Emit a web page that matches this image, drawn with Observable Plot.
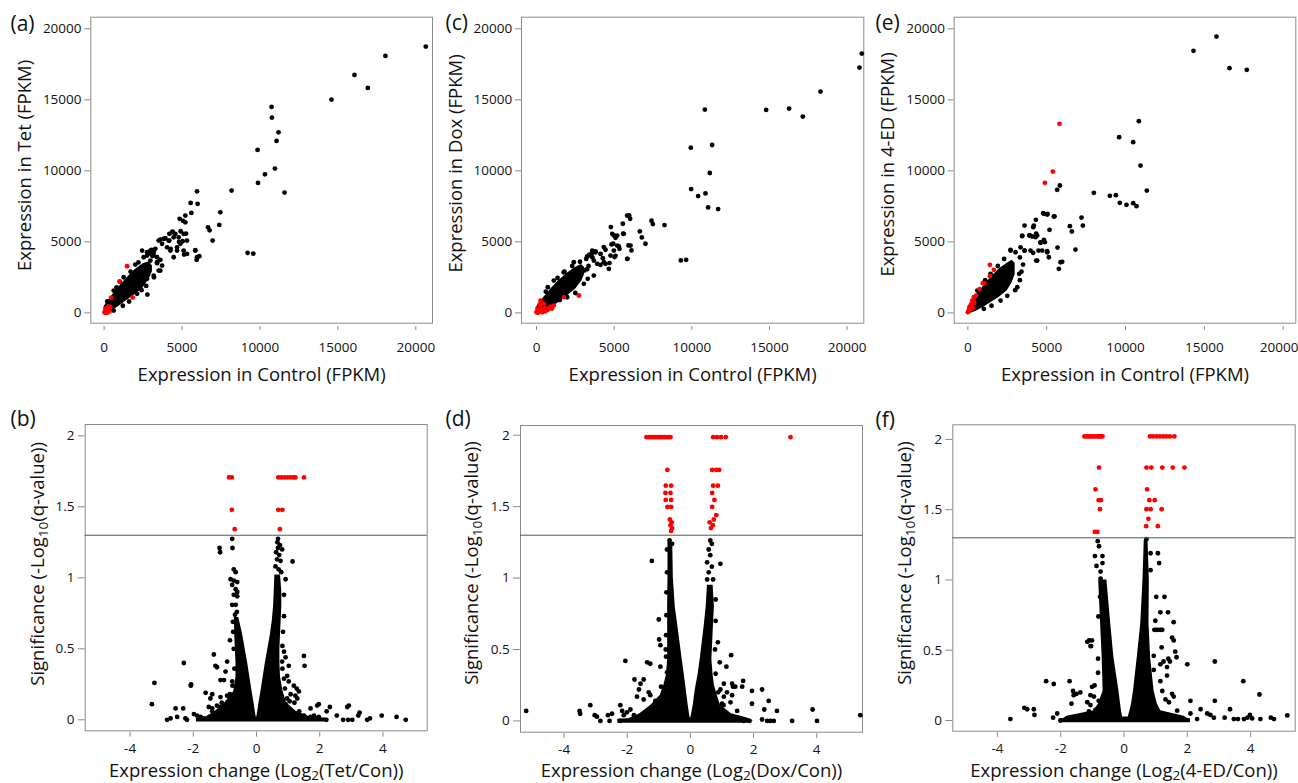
<!DOCTYPE html>
<html><head><meta charset="utf-8">
<script src="https://cdn.jsdelivr.net/npm/d3@7"></script>
<script src="https://cdn.jsdelivr.net/npm/@observablehq/plot@0.6"></script>
<style>
body{margin:0;background:#fff;}
#fig{position:relative;width:1298px;height:783px;}
#fig svg{position:absolute;}
</style></head><body><div id="fig"></div>
<script>
// ---------- tick labels & texts ----------
const scatterTicks = [0, 5000, 10000, 15000, 20000];
const volcanoXTicks = [-4, -2, 0, 2, 4];
const volcanoYTicks = [0, 0.5, 1, 1.5, 2];
const panelLetters = ["(a)", "(b)", "(c)", "(d)", "(e)", "(f)"];
const scatterXLabel = "Expression in Control (FPKM)";
const scatterYLabels = ["Expression in Tet (FPKM)", "Expression in Dox (FPKM)", "Expression in 4-ED (FPKM)"];
const volcanoXLabels = ["Expression change (Log2(Tet/Con))", "Expression change (Log2(Dox/Con))", "Expression change (Log2(4-ED/Con))"];
const volcanoYLabel = "Significance (-Log10(q-value))";
const qThreshold = 1.3;

// ---------- (a) Tet vs Control ----------
const aBlack = [[20640,18748],[18051,18093],[16064,16755],[16922,15840],[14590,15016],[10744,14502],[10769,13749],[11192,12714],[11064,12109],[9846,11475],[10961,10159],[10320,9757],[9872,9152],[11577,8469],[8179,8610],[5961,8561],[5551,7744],[6000,7674],[5596,7040],[7455,7082],[7391,6195],[6666,6026],[6769,5815],[6961,5090],[4846,6618],[5064,6477],[5211,6378],[4910,5745],[5256,5583],[4397,5724],[4461,5322],[4186,5562],[3609,5160],[3930,5252],[4186,5090],[4808,4998],[5038,5041],[5320,5090],[5852,4407],[6109,3985],[5936,3731],[4269,4506],[4461,3914],[4679,4386],[5128,4104],[9205,4224],[9570,4175],[3051,4435],[3179,4266],[3013,4154],[2776,1288],[3500,5090],[3820,5210],[4141,5090],[4359,5674],[4570,5562],[4782,5322],[5102,5562],[5211,6850],[4891,4858],[4679,4618],[5102,4386],[5320,4154],[5852,4386],[5961,3914],[4250,4386],[4038,4618],[3718,4858],[3288,4506],[2968,4386],[2756,4034],[2968,3682],[2647,3330],[2859,2978],[3180,2626],[2756,2394],[3180,4034],[3397,3914],[3609,3731],[3397,3562],[3718,3330],[3500,2978],[2436,4386],[2756,4266],[3077,4386],[615,162],[1200,500],[2115,1338],[2700,1900],[3200,2500],[3609,2978],[3400,3500],[3100,4000],[2540,3914],[2000,3400],[1256,2506],[800,1800],[615,1570],[200,800],[1600,800],[2400,1600],[1700,2900],[2200,3550],[1000,2200]];
const aRed = [[1474,3281],[1000,2203],[449,1077],[1833,1077],[50,100],[150,50],[250,150],[100,300],[200,350],[300,250],[350,100],[30,20],[400,400],[120,180],[280,450],[180,0]];
const aBand = [[0,-100,450],[300,0,900],[600,200,1350],[1000,500,1900],[1500,900,2500],[2000,1300,3050],[2500,1750,3450],[2900,2400,3600],[3100,2900,3300]];

// ---------- (c) Dox vs Control ----------
const cBlack = [[20945,18260],[20795,17273],[18284,15581],[14786,14288],[16267,14382],[17147,13818],[10837,14312],[9936,11633],[11309,11821],[11159,9847],[9957,8719],[10408,8225],[10880,8413],[11052,7426],[11696,7309],[9292,3690],[9636,3737],[8241,6181],[7404,6486],[7490,6251],[6653,5734],[6781,5311],[7017,4865],[5966,6862],[6030,6627],[5558,6275],[5579,5570],[4786,6040],[4979,5452],[5086,5288],[4936,4865],[5301,4677],[5343,4512],[4829,4818],[4335,4630],[4442,4442],[4271,3854],[4120,3384],[4700,3502],[5086,4019],[5021,3925],[5858,3807],[5923,4747],[6116,4395],[3605,4230],[3798,4324],[3262,3972],[3090,2985],[3262,3079],[730,1810],[1352,2468],[4873,5562],[5195,5442],[5623,5562],[5839,6850],[6054,4738],[5839,3802],[5195,4738],[4980,4386],[4766,4034],[4444,3450],[4659,3098],[4337,3562],[4122,4154],[3800,4266],[3587,4386],[3478,4034],[3693,3682],[3909,3450],[3200,3800],[3400,4100],[3600,3900],[2800,3600],[2300,3300],[1800,2900],[1114,2274],[1757,2858],[2402,3562],[902,634],[1977,1098],[3046,2042],[3690,2626],[2500,1400],[3300,2400],[1500,900],[600,1500],[3350,3300]];
const cRed = [[0,50],[60,300],[150,120],[258,394],[367,42],[470,634],[580,352],[700,200],[792,282],[902,444],[1000,300],[1114,514],[300,150],[200,600],[450,250],[258,866],[1760,1105],[2725,1222],[100,0],[550,100]];
const cBand = [[0,-100,400],[400,50,1000],[900,350,1650],[1400,700,2250],[2000,1200,2800],[2500,1650,3200],[2900,2200,3400],[3100,2700,3200]];

// ---------- (e) 4-ED vs Control ----------
const eBlack = [[15771,19457],[14312,18448],[16595,17227],[17694,17110],[10845,13495],[9598,12369],[10486,12017],[10951,10374],[11352,8613],[7991,8449],[9006,8238],[9386,8285],[9640,7745],[10063,7604],[10486,7722],[10697,7510],[5835,8966],[5666,8660],[4778,7018],[5052,6971],[5454,6783],[6469,6102],[6596,5727],[7209,6712],[7293,6149],[6828,4459],[5687,4600],[5983,3591],[5771,3098],[5179,5844],[4820,5140],[4883,4976],[4609,4929],[4482,4389],[5031,4342],[4334,5586],[4292,5328],[3911,5469],[4080,5375],[3594,6149],[3446,5398],[4313,6548],[4143,6032],[4143,4225],[4334,3685],[3594,4389],[3256,2746],[2707,4435],[3024,4266],[3341,4618],[3595,4386],[3975,4386],[4186,6146],[3446,5442],[3912,5442],[4398,5442],[4818,6970],[5034,6920],[5497,6800],[4609,4970],[4715,4386],[5034,4266],[4398,3682],[5135,3914],[5877,3562],[1014,282],[2073,866],[3132,1802],[1500,500],[2500,1200],[3000,1600],[3300,2300],[3400,2900],[3500,3400],[3300,3900],[2707,4386],[2300,3800],[1900,3300],[1439,2746],[1100,2300],[596,1570]];
const eRed = [[5814,13307],[5391,9951],[4883,9153],[1395,3380],[1649,3028],[1395,2582],[951,2089],[1050,2100],[740,1666],[529,1220],[380,1098],[278,866],[200,600],[100,400],[50,150],[150,250],[250,450],[0,50],[300,300],[400,700]];
const eBand = [[0,-100,400],[500,100,1200],[1000,400,1900],[1500,750,2550],[2000,1100,3100],[2500,1550,3500],[2800,2100,3700],[3000,2700,3500]];

// ---------- (b) Tet volcano ----------
const bRed = [[-0.87,1.707],[-0.78,1.707],[0.69,1.707],[0.78,1.707],[0.88,1.707],[0.98,1.707],[1.08,1.707],[1.17,1.707],[1.23,1.707],[1.50,1.707],[-0.78,1.479],[0.69,1.479],[0.82,1.479],[-0.69,1.343],[0.74,1.343]];
const bBlack = [[-0.77,1.275],[-0.76,1.21],[-1.17,1.21],[-1.15,1.18],[-0.72,1.06],[-0.66,1.04],[-0.82,0.99],[-0.72,0.98],[-0.61,0.97],[-0.77,0.95],[-0.66,0.92],[-0.61,0.90],[-0.72,0.88],[-0.61,0.87],[-0.77,0.81],[-0.66,0.81],[-0.75,0.69],[-0.84,0.56],[-1.35,0.46],[-1.30,0.38],[-1.25,0.37],[-0.93,0.41],[-0.98,0.34],[-1.14,0.28],[-1.03,0.28],[-0.77,0.27],[-2.30,0.40],[-2.07,0.25],[-1.61,0.19],[-1.40,0.18],[-1.46,0.15],[-1.14,0.16],[-0.93,0.17],[-0.82,0.16],[-1.51,0.09],[-1.40,0.08],[-1.25,0.10],[-1.14,0.09],[-1.03,0.10],[-0.88,0.09],[-2.56,0.08],[-2.32,0.08],[-2.72,0.01],[-2.51,0.02],[-2.25,0.01],[-2.20,0],[-1.98,0.04],[-1.88,0.03],[-1.77,0.02],[-1.67,0.01],[-3.31,0.11],[-3.23,0.26],[-2.83,0],[-2.08,0.24],[-0.74,0.62],[-0.72,0.50],[-0.70,0.36],[-0.76,0.24],[-0.84,0.18],[-1.1,0.12],[-1.4,0.06],[-0.62,0.76],[-0.68,0.74],
[0.68,1.275],[0.68,1.21],[0.81,1.20],[1.14,1.115],[0.65,1.13],[0.76,1.12],[0.62,1.18],[0.72,1.16],[0.60,1.08],[0.70,1.06],[0.78,1.04],[0.66,1.25],[0.74,1.23],[0.92,0.99],[0.87,0.88],[0.87,0.73],[0.87,0.48],[0.92,0.44],[0.81,0.41],[1.50,0.45],[1.52,0.38],[1.02,0.38],[0.97,0.31],[1.02,0.27],[0.87,0.29],[1.18,0.24],[1.27,0.22],[1.34,0.20],[1.23,0.17],[1.29,0.15],[1.20,0.12],[1.08,0.18],[0.97,0.15],[0.92,0.11],[1.71,0.08],[1.92,0.10],[1.82,0.03],[1.97,0.02],[1.71,0.02],[1.50,0.03],[1.97,0.11],[1.90,0.01],[2.22,0.06],[2.32,0.09],[2.21,0],[2.54,0.03],[2.74,0],[2.87,0.09],[2.92,0.10],[2.90,0],[3.03,0],[3.26,0.05],[3.22,0.03],[3.50,0],[3.59,0.01],[3.96,0.03],[4.43,0.02],[4.72,0],[0.84,0.62],[0.82,0.52],[0.82,0.36],[0.90,0.22],[1.05,0.13],[1.35,0.06]];
const bLeftArm = [[0.72,-0.70,-0.56],[0.60,-0.69,-0.44],[0.50,-0.67,-0.36],[0.40,-0.65,-0.28],[0.30,-0.65,-0.21],[0.20,-0.72,-0.14],[0.12,-1.00,-0.08],[0.06,-1.30,-0.04],[0.02,-1.60,-0.01],[0,-1.8,0]];
const bRightArm = [[1.02,0.58,0.76],[0.90,0.56,0.80],[0.80,0.54,0.80],[0.70,0.50,0.78],[0.60,0.44,0.76],[0.50,0.36,0.74],[0.40,0.28,0.74],[0.30,0.21,0.76],[0.20,0.14,0.84],[0.12,0.08,0.95],[0.06,0.04,1.25],[0.02,0.01,1.7],[0,0,2.0]];
const bBase = [[-1.9,-0.016,0.012],[-1.3,-0.016,0.02],[1.2,-0.016,0.02],[2.2,-0.016,0.012]];

// ---------- (d) Dox volcano ----------
const dRed = [[-1.39,1.986],[-1.33,1.986],[-1.27,1.986],[-1.20,1.986],[-1.14,1.986],[-1.08,1.986],[-1.01,1.986],[-0.95,1.986],[-0.89,1.986],[-0.82,1.986],[-0.76,1.986],[-0.69,1.986],[-0.63,1.986],[0.72,1.986],[0.84,1.986],[0.97,1.986],[1.12,1.986],[3.17,1.986],[-0.73,1.757],[0.69,1.757],[0.82,1.757],[0.91,1.757],[-0.78,1.647],[-0.61,1.647],[0.72,1.647],[0.87,1.647],[-0.79,1.596],[-0.63,1.596],[0.69,1.596],[-0.78,1.547],[-0.61,1.547],[0.76,1.547],[-0.73,1.498],[-0.61,1.498],[0.69,1.498],[0.82,1.44],[-0.65,1.41],[0.74,1.41],[-0.59,1.39],[0.61,1.39],[-0.63,1.37],[0.71,1.37],[-0.58,1.35],[0.65,1.35],[-0.61,1.33]];
const dBlack = [[0.63,1.263],[0.68,1.24],[0.58,1.20],[0.63,1.16],[0.53,1.11],[0.68,1.08],[0.58,1.04],[0.72,0.99],[0.53,0.99],[0.95,1.10],[-0.74,1.20],[-0.74,1.04],[-0.76,0.90],[-0.76,0.74],[-0.77,0.60],[-0.78,0.50],[-0.66,1.263],[-0.58,1.24],[-1.22,1.12],[-1.00,0.71],[-0.99,0.57],[-0.95,0.53],[-0.77,0.45],[-0.95,0.38],[-0.74,0.34],[-1.37,0.41],[-1.27,0.40],[-1.77,0.29],[-2.06,0.42],[-1.48,0.29],[-1.58,0.26],[-1.63,0.22],[-1.69,0.17],[-1.27,0.18],[-0.93,0.24],[-2.22,0.11],[-2.16,0.07],[-2.11,0.04],[-2.01,0.06],[-2.48,0.05],[-2.56,0],[-3.17,0.11],[-3.51,0.07],[-3.49,0.05],[-3.03,0.04],[-2.96,0.03],[-2.85,0],[-2.61,0.04],[-5.20,0.07],[-2.22,0],[-1.90,0.08],[-1.79,0.04],[-1.48,0.15],[-1.32,0.20],[-1.11,0.14],[-0.84,0.21],[0.87,0.55],[0.93,0.41],[1.14,0.38],[1.29,0.46],[1.42,0.24],[1.67,0.28],[1.64,0.24],[1.95,0.21],[1.95,0.12],[2.27,0.22],[2.48,0.14],[2.34,0.08],[2.74,0.07],[2.27,0.01],[2.43,0],[2.53,0],[2.64,0],[3.22,0],[3.87,0.08],[4.01,0],[5.38,0.04],[1.06,0.17],[1.00,0.12],[1.32,0.18],[0.95,0.22],[1.42,0.01],[1.69,0],[1.87,0],[1.06,0.26],[1.32,0.26],[1.35,0.24],[1.16,0.20],[1.27,0.13],[1.48,0.07],[0.80,0.85],[0.80,0.70],[0.78,0.50],[0.80,0.33],[0.88,0.20],[1.05,0.11]];
const dLeftArm = [[1.25,-0.71,-0.56],[1.0,-0.71,-0.54],[0.80,-0.72,-0.48],[0.67,-0.72,-0.40],[0.55,-0.72,-0.33],[0.43,-0.72,-0.26],[0.32,-0.76,-0.19],[0.25,-0.84,-0.15],[0.18,-0.95,-0.11],[0.11,-1.25,-0.07],[0.05,-1.6,-0.03],[0.02,-1.9,-0.01],[0,-2.1,0]];
const dRightArm = [[0.95,0.54,0.72],[0.80,0.50,0.76],[0.67,0.44,0.73],[0.43,0.31,0.68],[0.32,0.24,0.72],[0.25,0.18,0.76],[0.18,0.13,0.85],[0.11,0.09,0.95],[0.05,0.04,1.3],[0.02,0.01,1.8],[0,0,2.0]];
const dBase = [[-2.3,-0.016,0.012],[-1.5,-0.016,0.02],[1.4,-0.016,0.02],[1.9,-0.016,0.012]];

// ---------- (f) 4-ED volcano ----------
const fRed = [[-1.25,2.021],[-1.18,2.021],[-1.12,2.021],[-1.06,2.021],[-1.00,2.021],[-0.94,2.021],[-0.87,2.021],[-0.81,2.021],[-0.76,2.021],[-0.72,2.021],[-0.68,2.021],[0.82,2.021],[0.92,2.021],[1.03,2.021],[1.13,2.021],[1.24,2.021],[1.34,2.021],[1.45,2.021],[1.59,2.021],[-0.79,1.80],[0.71,1.80],[0.86,1.80],[1.21,1.80],[1.54,1.80],[1.91,1.80],[-0.90,1.645],[0.73,1.645],[-0.80,1.568],[-0.73,1.568],[0.80,1.568],[0.97,1.568],[-0.76,1.504],[0.71,1.504],[0.84,1.504],[1.19,1.504],[0.77,1.435],[0.70,1.383],[1.07,1.383],[-0.92,1.342],[-0.84,1.342]];
const fBlack = [[-0.83,1.276],[-0.79,1.24],[-0.92,1.17],[-0.68,1.17],[-0.87,1.10],[-0.68,1.12],[-0.74,1.06],[-0.74,1.01],[-0.69,0.96],[-0.76,0.88],[-0.66,0.83],[-0.81,0.74],[-1.01,0.57],[-1.10,0.57],[-1.04,0.53],[-0.82,0.44],[-0.82,0.34],[-3.59,0.01],[-3.15,0.09],[-3.06,0.08],[-2.85,0.08],[-2.83,0.04],[-2.46,0.28],[-2.22,0.26],[-2.24,0.02],[-2.11,0.05],[-2.01,0],[-1.72,0.28],[-1.66,0.12],[-1.61,0.21],[-1.59,0.18],[-1.50,0.19],[-1.38,0.20],[-1.16,0.56],[-1.06,0.53],[-1.01,0.24],[-0.93,0.25],[-1.16,0.13],[-1.06,0.18],[-0.95,0.17],[-1.11,0.064],[-0.90,0.076],[-1.06,0.11],[-0.80,0.14],[0.71,1.29],[0.84,1.19],[1.07,1.19],[1.11,1.12],[0.84,1.07],[1.02,0.88],[1.28,0.88],[1.15,0.77],[1.39,0.77],[0.99,0.71],[1.57,0.70],[0.96,0.645],[1.02,0.645],[1.08,0.645],[1.15,0.645],[1.21,0.645],[1.52,0.59],[1.57,0.57],[1.19,0.52],[0.94,0.46],[1.62,0.49],[1.66,0.45],[1.40,0.44],[1.45,0.42],[1.15,0.40],[1.25,0.42],[1.36,0.38],[1.36,0.32],[2.00,0.40],[2.87,0.42],[1.52,0.19],[1.57,0.17],[1.15,0.28],[0.94,0.36],[1.42,0.13],[2.10,0.14],[3.77,0.28],[4.28,0.185],[2.87,0.14],[3.35,0.08],[2.42,0.08],[2.63,0.05],[2.73,0.04],[2.84,0.02],[5.16,0.036],[4.74,0.01],[4.64,0.02],[4.31,0.01],[3.98,0.04],[3.79,0.01],[3.60,0.01],[3.47,0.01],[3.18,0.02],[2.31,0.01],[2.10,0.05],[1.79,0.01],[1.21,0.21],[1.31,0.15],[1.68,0.07],[3.90,0.02],[4.05,0.015]];
const fLeftArm = [[1.0,-0.80,-0.54],[0.69,-0.74,-0.42],[0.45,-0.69,-0.32],[0.21,-0.66,-0.16],[0.12,-0.80,-0.11],[0.07,-0.95,-0.08],[0.03,-1.8,-0.05],[0,-2.0,-0.04]];
const fRightArm = [[1.28,0.64,0.76],[1.0,0.60,0.80],[0.69,0.53,0.79],[0.45,0.42,0.84],[0.21,0.30,0.95],[0.12,0.24,1.05],[0.07,0.19,1.16],[0.03,0.14,1.9],[0,0.13,2.1]];
const fBase = [[-2.0,-0.016,0.012],[-1.4,-0.016,0.025],[1.5,-0.016,0.025],[2.1,-0.016,0.012]];

// ---------- drawing ----------
const FONT = '"Open Sans", sans-serif';
const R = 2.4;
const GRAY = "#8a8a8a";
const fmt = d => String(d);

function subscriptify(svg) {
  const ns = "http://www.w3.org/2000/svg";
  svg.querySelectorAll("text").forEach(t => {
    const s = t.textContent;
    const m = s.match(/^(.*Log)(10|2)(\(.*)$/);
    if (!m) return;
    while (t.firstChild) t.removeChild(t.firstChild);
    const a = document.createElementNS(ns, "tspan"); a.textContent = m[1];
    const b = document.createElementNS(ns, "tspan"); b.textContent = m[2];
    b.setAttribute("font-size", "13.5px"); b.setAttribute("dy", "3.5");
    const c = document.createElementNS(ns, "tspan"); c.textContent = m[3]; c.setAttribute("dy", "-3.5");
    t.append(a, b, c);
  });
}

function panel(p) {
  const marks = [Plot.frame({stroke: GRAY})];
  for (const a of p.areasX || []) marks.push(Plot.areaX(a, {y: d => d[0], x1: d => d[1], x2: d => d[2], fill: "#000"}));
  for (const a of p.areasY || []) marks.push(Plot.areaY(a, {x: d => d[0], y1: d => d[1], y2: d => d[2], fill: "#000"}));
  marks.push(Plot.dot(p.black, {x: d => d[0], y: d => d[1], r: R, fill: "#000"}));
  marks.push(Plot.dot(p.red, {x: d => d[0], y: d => d[1], r: R, fill: "#ff0000"}));
  if (p.rule != null) marks.push(Plot.ruleY([p.rule], {stroke: "#555", strokeWidth: 1}));
  const axX = {tickFormat: fmt, tickSize: p.xts, tickPadding: p.xtp, dy: p.xgap, stroke: GRAY, fill: "#111", label: null, fontSize: 13.5};
  if (p.lastTickDx) {
    marks.push(Plot.axisX({...axX, ticks: p.xTicks.slice(0, -1)}));
    marks.push(Plot.axisX({...axX, ticks: p.xTicks.slice(-1), stroke: "none", dx: p.lastTickDx}));
    marks.push(Plot.axisX({...axX, ticks: p.xTicks.slice(-1), text: null}));
  } else {
    marks.push(Plot.axisX({...axX, ticks: p.xTicks}));
  }
  marks.push(Plot.axisY({ticks: p.yTicks, tickFormat: fmt, tickSize: p.yts, tickPadding: p.ytp, stroke: GRAY, fill: "#111", label: null, fontSize: 13.5}));
  marks.push(Plot.text([p.xLabel], {text: d => d, frameAnchor: "bottom", lineAnchor: "middle", dy: p.xLabelDy, fontSize: 18.5, fill: "#111"}));
  marks.push(Plot.text([p.yLabel], {text: d => d, frameAnchor: "left", textAnchor: "middle", lineAnchor: "middle", rotate: -90, dx: p.yLabelDx, dy: p.yLabelDy, fontSize: 18.5, fill: "#111"}));
  marks.push(Plot.text([p.letter], {text: d => d, frameAnchor: "top-left", textAnchor: "start", lineAnchor: "middle", dx: p.letterDx, dy: p.letterDy, fontSize: 21, fill: "#111"}));
  const svg = Plot.plot({
    width: p.W, height: p.H,
    marginLeft: p.mL, marginRight: p.mR, marginTop: p.mT, marginBottom: p.mB,
    x: {domain: p.xDomain}, y: {domain: p.yDomain},
    style: {fontFamily: FONT, fontSize: "13.5px", color: "#111", background: "transparent", overflow: "visible"},
    marks
  });
  svg.style.left = p.L + "px";
  svg.style.top = p.T + "px";
  subscriptify(svg);
  document.getElementById("fig").appendChild(svg);
}

const scatterCommon = {T: 0, H: 390, mT: 16.7, mB: 67.3, yDomain: [-728, 20818], xTicks: scatterTicks, yTicks: scatterTicks,
  xts: 4, xtp: 12, xgap: 3.3, yts: 6, ytp: 3.3, xLabel: scatterXLabel, xLabelDy: 52.3};
panel({...scatterCommon, L: 0, W: 433, mL: 90.3, mR: 1, xDomain: [-855, 21071], black: aBlack, red: aRed, areasY: [aBand],
  yLabel: scatterYLabels[0], yLabelDx: -65.3, yLabelDy: -4.7, letter: panelLetters[0], letterDx: -80.3, letterDy: 6.6});
panel({...scatterCommon, L: 433, W: 432, mL: 88, mR: 1.7, xDomain: [-966, 21074], black: cBlack, red: cRed, areasY: [cBand],
  yLabel: scatterYLabels[1], yLabelDx: -65.3, yLabelDy: -6.7, letter: panelLetters[2], letterDx: -76, letterDy: 5.8});
panel({...scatterCommon, L: 865, W: 433, mL: 88.7, mR: 2.7, xDomain: [-867, 20802], black: eBlack, red: eRed, areasY: [eBand], lastTickDx: -4,
  yLabel: scatterYLabels[2], yLabelDx: -65.7, yLabelDy: -5.7, letter: panelLetters[4], letterDx: -78.7, letterDy: 6.3});

const volcCommon = {T: 390, H: 393, xTicks: volcanoXTicks, yTicks: volcanoYTicks, xts: 5, xtp: 6.3, xgap: 1.4, yts: 7, ytp: 3.7,
  yLabel: volcanoYLabel, rule: qThreshold};
panel({...volcCommon, L: 0, W: 433, mL: 84.7, mR: 6.3, mT: 34, mB: 52.7, xDomain: [-5.42, 5.40], yDomain: [-0.0775, 2.080],
  black: bBlack, red: bRed, areasX: [bLeftArm, bRightArm], areasY: [bBase],
  xLabel: volcanoXLabels[0], xLabelDy: 40, yLabelDx: -46.7, yLabelDy: -13.7, letter: panelLetters[1], letterDx: -74.7, letterDy: -5});
panel({...volcCommon, L: 433, W: 432, mL: 87, mR: 3, mT: 35, mB: 51.3, xDomain: [-5.38, 5.45], yDomain: [-0.079, 2.068],
  black: dBlack, red: dRed, areasX: [dLeftArm, dRightArm], areasY: [dBase],
  xLabel: volcanoXLabels[1], xLabelDy: 38.6, yLabelDx: -48.3, yLabelDy: -15.8, letter: panelLetters[3], letterDx: -75, letterDy: -6});
panel({...volcCommon, L: 865, W: 433, mL: 87.3, mR: 3.3, mT: 34.3, mB: 52.3, xDomain: [-5.41, 5.41], yDomain: [-0.076, 2.104],
  black: fBlack, red: fRed, areasX: [fLeftArm, fRightArm], areasY: [fBase],
  xLabel: volcanoXLabels[2], xLabelDy: 39.6, yLabelDx: -47.3, yLabelDy: -15, letter: panelLetters[5], letterDx: -77.3, letterDy: -4.3});
</script>
</body></html>
